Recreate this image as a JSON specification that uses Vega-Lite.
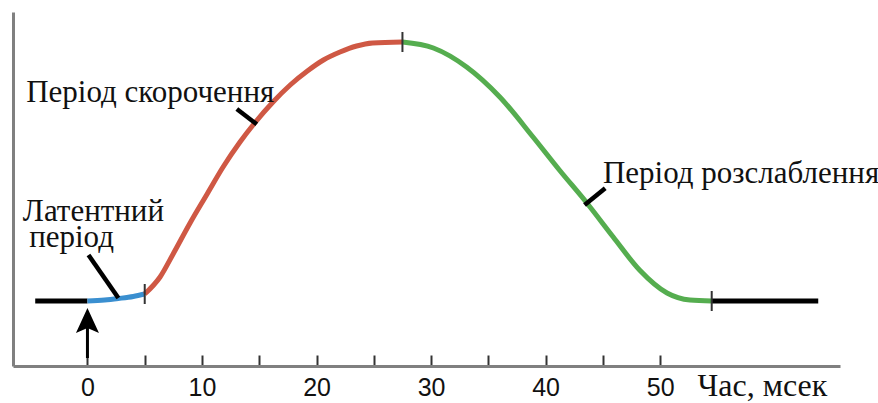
{
  "$schema": "https://vega.github.io/schema/vega-lite/v6.json",
  "width": 827,
  "height": 354,
  "autosize": {"type": "none"},
  "padding": {"left": 13, "top": 12, "right": 38, "bottom": 37},
  "background": "white",
  "config": {"view": {"stroke": null}, "text": {"font": "Liberation Serif"}},
  "datasets": {
    "curve": [
      {"segment": "rest1", "phase": "rest", "x": -4.56, "y": 65},
      {"segment": "rest1", "phase": "rest", "x": 0, "y": 65},
      {"segment": "latent", "phase": "latent", "x": 0, "y": 65},
      {"segment": "latent", "phase": "latent", "x": 1.5, "y": 66},
      {"segment": "latent", "phase": "latent", "x": 2.7, "y": 67.5},
      {"segment": "latent", "phase": "latent", "x": 4, "y": 69.5},
      {"segment": "latent", "phase": "latent", "x": 5, "y": 72},
      {"segment": "contraction", "phase": "contraction", "x": 5, "y": 72},
      {"segment": "contraction", "phase": "contraction", "x": 6.34, "y": 89},
      {"segment": "contraction", "phase": "contraction", "x": 7.48, "y": 112},
      {"segment": "contraction", "phase": "contraction", "x": 8.96, "y": 143},
      {"segment": "contraction", "phase": "contraction", "x": 10.45, "y": 172},
      {"segment": "contraction", "phase": "contraction", "x": 11.84, "y": 199},
      {"segment": "contraction", "phase": "contraction", "x": 13.32, "y": 224},
      {"segment": "contraction", "phase": "contraction", "x": 14.6, "y": 243},
      {"segment": "contraction", "phase": "contraction", "x": 16.2, "y": 264},
      {"segment": "contraction", "phase": "contraction", "x": 17.7, "y": 281},
      {"segment": "contraction", "phase": "contraction", "x": 19.2, "y": 295},
      {"segment": "contraction", "phase": "contraction", "x": 20.6, "y": 306},
      {"segment": "contraction", "phase": "contraction", "x": 22.05, "y": 314},
      {"segment": "contraction", "phase": "contraction", "x": 23.5, "y": 320},
      {"segment": "contraction", "phase": "contraction", "x": 24.9, "y": 323},
      {"segment": "contraction", "phase": "contraction", "x": 27.5, "y": 324},
      {"segment": "relaxation", "phase": "relaxation", "x": 27.5, "y": 324},
      {"segment": "relaxation", "phase": "relaxation", "x": 30.2, "y": 318},
      {"segment": "relaxation", "phase": "relaxation", "x": 33.1, "y": 299},
      {"segment": "relaxation", "phase": "relaxation", "x": 36.0, "y": 269},
      {"segment": "relaxation", "phase": "relaxation", "x": 38.9, "y": 229},
      {"segment": "relaxation", "phase": "relaxation", "x": 41.2, "y": 196},
      {"segment": "relaxation", "phase": "relaxation", "x": 43.6, "y": 163},
      {"segment": "relaxation", "phase": "relaxation", "x": 45.9, "y": 129},
      {"segment": "relaxation", "phase": "relaxation", "x": 48.2, "y": 96},
      {"segment": "relaxation", "phase": "relaxation", "x": 50.6, "y": 73},
      {"segment": "relaxation", "phase": "relaxation", "x": 52.6, "y": 66},
      {"segment": "relaxation", "phase": "relaxation", "x": 54.5, "y": 65},
      {"segment": "rest2", "phase": "rest", "x": 54.5, "y": 65},
      {"segment": "rest2", "phase": "rest", "x": 63.8, "y": 65}
    ],
    "boundaries": [
      {"x": 5, "y": 72},
      {"x": 27.5, "y": 324},
      {"x": 54.5, "y": 65}
    ],
    "pointers": [
      {"x": 0.09, "y": 111, "x2": 2.7, "y2": 68},
      {"x": 13.04, "y": 257, "x2": 14.78, "y2": 241.7},
      {"x": 45.2, "y": 177.7, "x2": 43.4, "y2": 161}
    ],
    "labels": [
      {"text": "Період скорочення", "x": -5.35, "y": 264},
      {"text": "Період розслаблення", "x": 45.0, "y": 183},
      {"text": "Латентний", "x": -5.64, "y": 145},
      {"text": "період", "x": -5.09, "y": 119.3}
    ],
    "arrowShaft": [
      {"x": 0, "y": 8, "y2": 38}
    ],
    "arrowHead": [
      {"x": 0, "y": 33}
    ]
  },
  "encoding": {
    "x": {
      "field": "x",
      "type": "quantitative",
      "scale": {"domain": [-6.5, 65.7], "nice": false, "zero": false},
      "axis": {
        "values": [0, 5, 10, 15, 20, 25, 30, 35, 40, 45, 50],
        "labelExpr": "datum.value % 10 === 0 ? datum.label : ''",
        "grid": false,
        "domainColor": "#808080",
        "domainWidth": 3,
        "tickColor": "#333333",
        "tickWidth": 2,
        "tickSize": -11,
        "labelFont": "Liberation Sans Narrow, Liberation Sans, sans-serif",
        "labelFontSize": 25,
        "labelColor": "#111111",
        "labelPadding": 20,
        "labelFlush": false,
        "labelOverlap": false,
        "title": "Час, мсек",
        "titleFont": "Liberation Serif",
        "titleFontSize": 32,
        "titleFontWeight": "normal",
        "titleColor": "#111111",
        "titleX": 684,
        "titleY": 29,
        "titleAlign": "left",
        "titleBaseline": "alphabetic"
      }
    },
    "y": {
      "field": "y",
      "type": "quantitative",
      "scale": {"domain": [0, 354], "nice": false, "zero": false},
      "axis": {
        "title": null,
        "labels": false,
        "ticks": false,
        "grid": false,
        "domainColor": "#808080",
        "domainWidth": 3
      }
    }
  },
  "layer": [
    {
      "data": {"name": "curve"},
      "mark": {"type": "line", "strokeWidth": 5, "interpolate": "monotone", "strokeCap": "butt"},
      "encoding": {
        "detail": {"field": "segment"},
        "color": {
          "field": "phase",
          "type": "nominal",
          "scale": {
            "domain": ["rest", "latent", "contraction", "relaxation"],
            "range": ["#000000", "#3a8fd0", "#cf5844", "#55ad4f"]
          },
          "legend": null
        }
      }
    },
    {
      "data": {"name": "boundaries"},
      "mark": {"type": "point", "shape": "M0,-1L0,1", "size": 400, "stroke": "#333333", "strokeWidth": 2, "filled": false, "opacity": 1},
      "encoding": {}
    },
    {
      "data": {"name": "pointers"},
      "mark": {"type": "rule", "strokeWidth": 4.5, "color": "#000000"},
      "encoding": {
        "x2": {"field": "x2"},
        "y2": {"field": "y2"}
      }
    },
    {
      "data": {"name": "arrowShaft"},
      "mark": {"type": "rule", "strokeWidth": 3, "color": "#000000"},
      "encoding": {
        "y2": {"field": "y2"}
      }
    },
    {
      "data": {"name": "arrowHead"},
      "mark": {"type": "point", "shape": "M0,-1L0.46,0L0,-0.2L-0.46,0Z", "size": 2500, "filled": true, "color": "#000000", "opacity": 1},
      "encoding": {}
    },
    {
      "data": {"name": "labels"},
      "mark": {"type": "text", "font": "Liberation Serif, serif", "fontSize": 31, "align": "left", "baseline": "alphabetic", "color": "#111111"},
      "encoding": {
        "text": {"field": "text"}
      }
    }
  ]
}
